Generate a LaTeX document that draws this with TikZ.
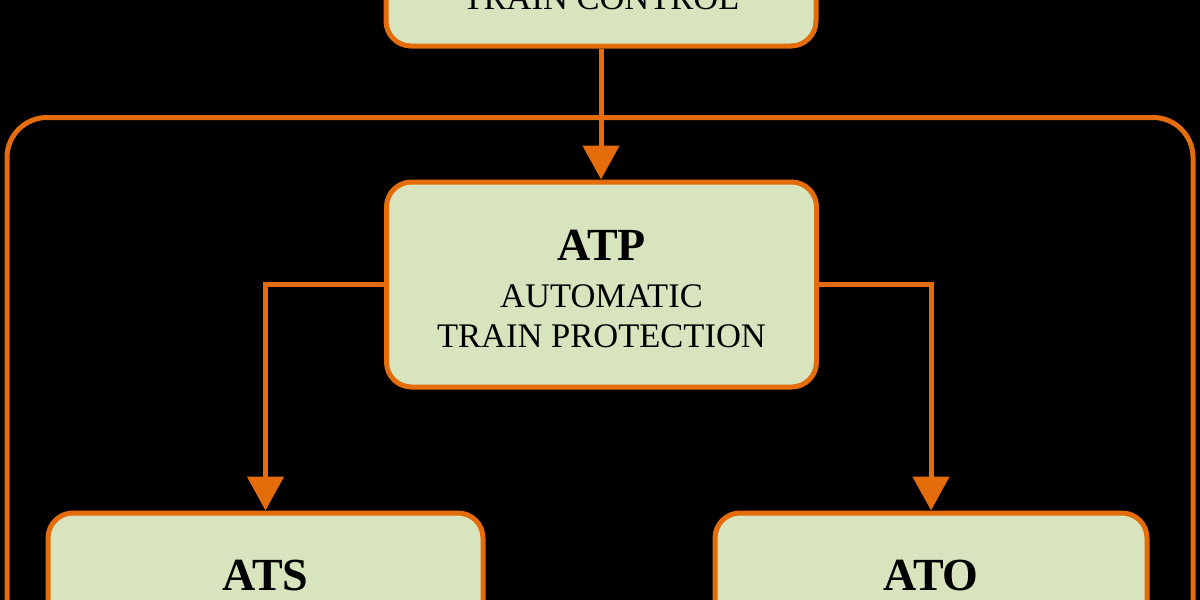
\documentclass[tikz,border=0pt]{standalone}
\usepackage{fontspec}
\setmainfont{Liberation Serif}
\usetikzlibrary{arrows.meta}
\definecolor{orangeline}{HTML}{E46C0A}
\definecolor{boxfill}{HTML}{D7E4BD}
\tikzset{
  flowbox/.style={draw=orangeline, fill=boxfill, line width=5pt, rounded corners=25pt, minimum width=430pt, minimum height=205pt, inner sep=0pt},
  conn/.style={draw=orangeline, line width=5pt},
  arr/.style={conn, -{Triangle[width=36pt,length=34pt]}},
  titletext/.style={font=\bfseries\fontsize{46}{50}\selectfont, anchor=base, inner sep=0pt},
  subtext/.style={font=\fontsize{34.5}{40}\selectfont, anchor=base, inner sep=0pt}
}
\begin{document}
\begin{tikzpicture}[x=1pt,y=-1pt]
\fill[black] (0,0) rectangle (1200,600);
\useasboundingbox (0,0) rectangle (1200,600);
\clip (0,0) rectangle (1200,600);
% outer loop
\coordinate (loopL) at (7,620);
\coordinate (loopR) at (1193,620);
\draw[conn, rounded corners=40pt] (loopL) -- (7,117.5) -- (1193,117.5) -- (loopR);
% boxes
\node[flowbox] (top) at (601,-56.5) {};
\node[flowbox] (atp) at (601.5,284.5) {};
\node[flowbox, minimum width=435pt] (ats) at (265.5,615.5) {};
\node[flowbox, minimum width=432pt] (ato) at (931,615.5) {};
% texts
\node[subtext] (topS) at (601,9) {TRAIN CONTROL};
\node[titletext] (atpT) at (601.5,260) {ATP};
\node[subtext] (atpS1) at (601.5,307) {AUTOMATIC};
\node[subtext] (atpS2) at (601.5,347) {TRAIN PROTECTION};
\node[titletext] (atsT) at (265.5,590) {ATS};
\node[titletext] (atoT) at (931,590) {ATO};
% connectors
\draw[arr] (top.south) -- (top.south |- atp.north);
\draw[arr] (atp.west) -| (ats.north);
\draw[arr] (atp.east) -| (ato.north);
\end{tikzpicture}
\end{document}
